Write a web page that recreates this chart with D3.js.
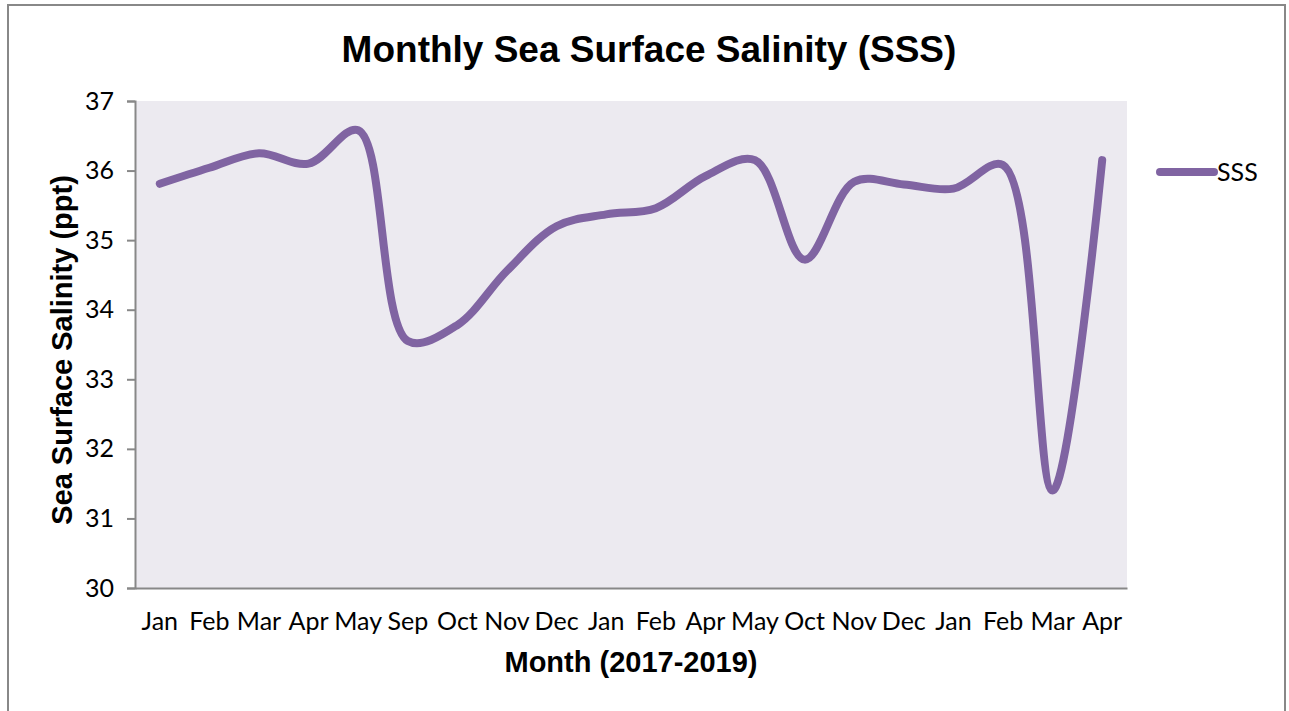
<!DOCTYPE html>
<html><head><meta charset="utf-8">
<script src="https://cdn.jsdelivr.net/npm/d3@7"></script>
<style>body{margin:0;background:#fff;}svg{display:block;}</style>
</head><body>
<svg id="chart" width="1289" height="711"></svg>
<script>
const months = ["Jan","Feb","Mar","Apr","May","Sep","Oct","Nov","Dec","Jan","Feb","Apr","May","Oct","Nov","Dec","Jan","Feb","Mar","Apr"];
const sss = [35.81,36.04,36.25,36.1,36.58,33.55,33.78,34.56,35.2,35.37,35.46,35.92,36.15,34.72,35.84,35.8,35.74,36.08,31.4,36.15];
const yTicks = [30,31,32,33,34,35,36,37];
const seriesName = "SSS";

const svg = d3.select("#chart");
const m = {left:135, right:1127, top:101, bottom:588};
const tickFont = "Lato, 'Open Sans', sans-serif";
const boldFont = "'Liberation Sans', Arial, sans-serif";

// outer border
svg.append("path").attr("d","M8,720 V5 H1285 V720").attr("fill","none").attr("stroke","#888").attr("stroke-width",2);

const idx = months.map((d,i)=>i);
const x = d3.scaleBand().domain(idx).range([m.left,m.right]);
const y = d3.scaleLinear().domain([30,37]).range([m.bottom,m.top]);

svg.append("rect").attr("x",m.left).attr("y",m.top).attr("width",m.right-m.left).attr("height",m.bottom-m.top).attr("fill","#ECEAF0");

// y axis
const ya = svg.append("g").attr("transform",`translate(${m.left},0)`)
  .call(d3.axisLeft(y).tickValues(yTicks).tickSize(8).tickPadding(13).tickFormat(d3.format("d")));
ya.select(".domain").attr("stroke","#888").attr("stroke-width",2);
ya.selectAll(".tick line").attr("stroke","#888").attr("stroke-width",2);
ya.selectAll("text").attr("font-family",tickFont).attr("font-size",25).attr("fill","#000");

// x axis
const xa = svg.append("g").attr("transform",`translate(0,${m.bottom})`)
  .call(d3.axisBottom(x).tickSize(0).tickPadding(24).tickFormat(i=>months[i]));
xa.select(".domain").attr("stroke","#888").attr("stroke-width",2);
xa.selectAll("text").attr("font-family",tickFont).attr("font-size",25).attr("fill","#000");

// line
const line = d3.line().x((d,i)=>x(i)+x.bandwidth()/2).y(d=>y(d)).curve(d3.curveCatmullRom.alpha(0.5));
svg.append("path").datum(sss).attr("d",line).attr("fill","none").attr("stroke","#8064A2").attr("stroke-width",8).attr("stroke-linecap","round").attr("stroke-linejoin","round");

// titles
svg.append("text").attr("x",649).attr("y",62).attr("text-anchor","middle")
  .attr("font-family",boldFont).attr("font-weight","bold").attr("font-size",37).text("Monthly Sea Surface Salinity (SSS)");
svg.append("text").attr("x",631).attr("y",672).attr("text-anchor","middle")
  .attr("font-family",boldFont).attr("font-weight","bold").attr("font-size",29).text("Month (2017-2019)");
svg.append("text").attr("transform","translate(72,350) rotate(-90)").attr("text-anchor","middle")
  .attr("font-family",boldFont).attr("font-weight","bold").attr("font-size",29).text("Sea Surface Salinity (ppt)");

// legend
const lg = svg.append("g");
lg.append("line").attr("x1",1160).attr("x2",1214).attr("y1",172).attr("y2",172).attr("stroke","#8064A2").attr("stroke-width",8).attr("stroke-linecap","round");
lg.append("text").attr("x",1217).attr("y",181).attr("font-family",tickFont).attr("font-size",25).text(seriesName);
</script>
</body></html>
